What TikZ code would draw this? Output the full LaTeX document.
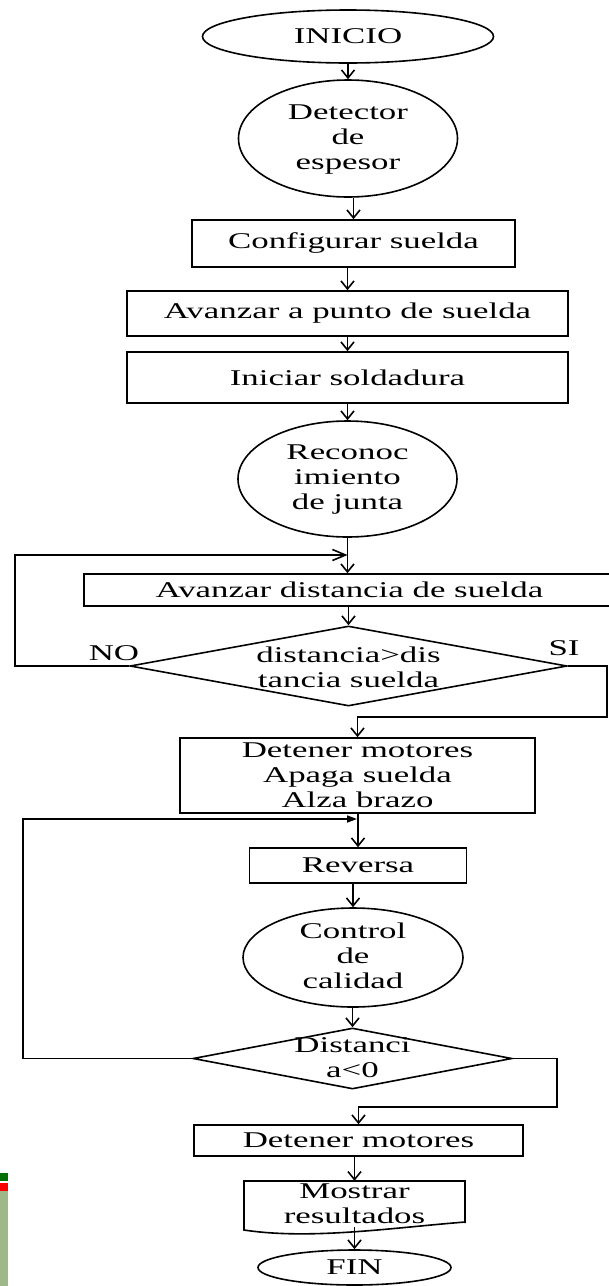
\documentclass[tikz,border=0pt]{standalone}
\usepackage{fontspec}
\setmainfont{Liberation Serif}[FakeStretch=1.55]
\usetikzlibrary{shapes.geometric,arrows.meta}
\begin{document}
\begin{tikzpicture}[x=1pt,y=-1pt,
  every node/.style={font=\fontsize{22.5}{25}\selectfont},
  ln/.style={line width=1.6pt},
  box/.style={draw,line width=1.6pt,rectangle,inner sep=0pt,align=center},
  ov/.style={draw,line width=1.6pt,ellipse,inner sep=0pt},
  dec/.style={draw,line width=1.6pt,diamond,inner sep=0pt},
  txt/.style={align=center,inner sep=0pt},
  arr/.style={line width=1.6pt,-{Straight Barb[length=8pt,width=13pt,line width=1.6pt]}},
  arrb/.style={line width=1.6pt,-{Straight Barb[length=13pt,width=11pt,line width=1.6pt]}},
  arrc/.style={line width=1.6pt,-{Triangle[length=10pt,width=7pt]}}]
\useasboundingbox (0,0) rectangle (609,1286);
\clip (0,0) rectangle (609,1286);

% side artifact
\fill[fill={rgb,255:red,0;green,110;blue,0}] (0,1173) rectangle (8,1181);
\fill[fill=red] (0,1183) rectangle (8,1191);
\fill[fill={rgb,255:red,158;green,184;blue,138}] (0,1191) rectangle (8,1286);

% nodes
\node[ov,minimum width=291pt,minimum height=53pt] (ini) at (348,36.5) {INICIO};
\node[ov,minimum width=219pt,minimum height=117pt] (det) at (348,138.5) {};
\node[txt] (dett) at (348,139.5) {Detector\\de\\espesor};
\node[box,minimum width=323pt,minimum height=47pt] (conf) at (353.5,243.5) {Configurar suelda};
\node[box,minimum width=441pt,minimum height=45pt] (avp) at (347.5,313.5) {Avanzar a punto de suelda};
\node[box,minimum width=441pt,minimum height=51pt] (inis) at (347.5,377.5) {Iniciar soldadura};
\node[ov,minimum width=219pt,minimum height=116pt] (rec) at (347.5,479) {};
\node[txt] (rect) at (347.5,480) {Reconoc\\imiento\\de junta};
\node[box,minimum width=531pt,minimum height=32pt] (avd) at (349.5,590) {Avanzar distancia de suelda};
\node[dec,minimum width=437pt,minimum height=80pt] (d1) at (348.5,666) {};
\node[txt] (d1t) at (348.5,667) {distancia>dis\\tancia suelda};
\node[txt] (no) at (114,653) {NO};
\node[txt] (si) at (564,648) {SI};
\node[box,minimum width=355pt,minimum height=75pt] (det3) at (357.5,775.5) {Detener motores\\Apaga suelda\\Alza brazo};
\node[box,minimum width=217pt,minimum height=35pt] (rev) at (358,865.5) {Reversa};
\node[ov,minimum width=220pt,minimum height=99pt] (cc) at (353,957.5) {};
\node[txt] (cct) at (353,956) {Control\\de\\calidad};
\node[dec,minimum width=319pt,minimum height=61pt] (d2) at (352.5,1058.5) {};
\node[txt] (d2t) at (352.5,1058) {Distanci\\a<0};
\node[box,minimum width=329pt,minimum height=31pt] (detm) at (358.5,1140.5) {Detener motores};
\node[txt,minimum width=221pt,minimum height=46pt] (mos) at (354.5,1204) {Mostrar\\resultados};
\draw[ln] (465,1223) -- (465,1181) -- (244,1181) -- (244,1230)
  .. controls (310,1240) and (390,1228) .. (465,1222);
\node[ov,minimum width=193pt,minimum height=35pt] (fin) at (354.5,1267.5) {FIN};

% helper coordinates
\coordinate (l1) at (15,555);
\coordinate (j1) at (347.5,555);
\coordinate (r1) at (607,717);
\coordinate (l2) at (23,819);
\coordinate (j2) at (357,819);
\coordinate (r2) at (557,1107);

% connectors
\draw[arr] (ini) -- (det);
\draw[arr] (conf.north |- det.south) -- (conf.north);
\draw[arr] (avp.north |- conf.south) -- (avp.north);
\draw[arr] (avp) -- (inis);
\draw[arr] (inis) -- (rec);
\draw[arr] (rec.south) -- (rec.south |- avd.north);
\draw[arr] (d1.north |- avd.south) -- (d1.north);
\draw[arrb] (d1.west) -| (l1) -- (j1);
\draw[arr] (d1.east) -| (r1) -| (det3.north);
\draw[arr] (rev.north |- det3.south) -- (rev.north);
\draw[arrc] (d2.west) -| (l2) -- (j2);
\draw[arr] (cc.north |- rev.south) -- (cc.north);
\draw[arr] (d2.north |- cc.south) -- (d2.north);
\draw[arr] (d2.east) -| (r2) -| (detm.north);
\draw[arr] (mos.north |- detm.south) -- (mos.north);
\draw[arr] (fin.north |- mos.south) -- (fin.north);
\end{tikzpicture}
\end{document}
